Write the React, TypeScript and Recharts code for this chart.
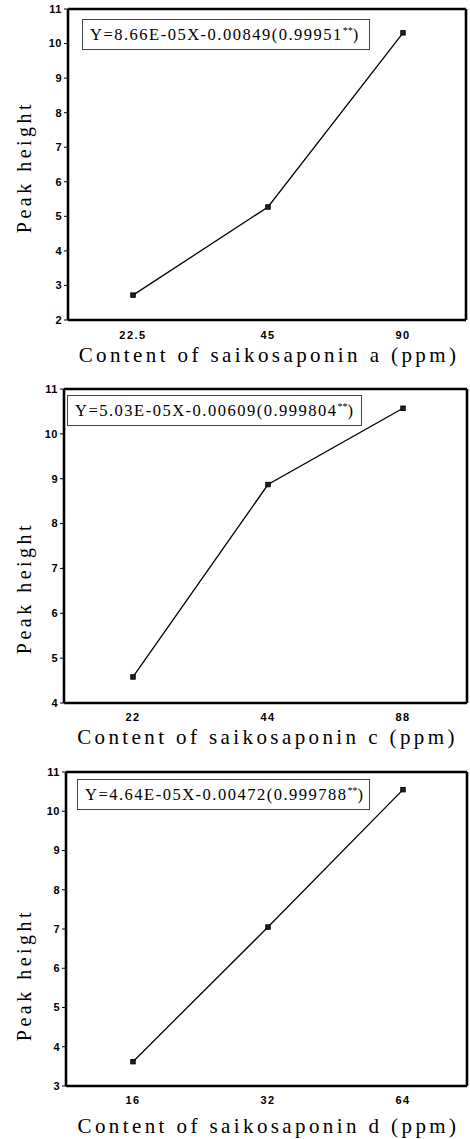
import React from 'react';
import { LineChart, Line, XAxis, YAxis, Label } from 'recharts';

const catsA = ['22.5', '45', '90'];
const valsA = [2.72, 5.27, 10.31];
const ticksA = [2, 3, 4, 5, 6, 7, 8, 9, 10, 11];
const eqA = 'Y=8.66E-05X-0.00849(0.99951';

const catsC = ['22', '44', '88'];
const valsC = [4.58, 8.87, 10.57];
const ticksC = [4, 5, 6, 7, 8, 9, 10, 11];
const eqC = 'Y=5.03E-05X-0.00609(0.999804';

const catsD = ['16', '32', '64'];
const valsD = [3.62, 7.05, 10.55];
const ticksD = [3, 4, 5, 6, 7, 8, 9, 10, 11];
const eqD = 'Y=4.64E-05X-0.00472(0.999788';

const xTitles = [
  'Content of saikosaponin a (ppm)',
  'Content of saikosaponin c (ppm)',
  'Content of saikosaponin d (ppm)',
];
const yTitle = 'Peak height';

const SERIF = '"Liberation Serif", "DejaVu Serif", serif';
const SANS = '"Liberation Sans", Arial, sans-serif';

const SquareDot = (props: any) => {
  const { cx, cy } = props;
  if (cx == null || cy == null) return null;
  return <rect x={cx - 2.2} y={cy - 2.2} width={4.4} height={4.4} fill="#222" stroke="#000" strokeWidth={1} />;
};

type PanelProps = {
  top: number;
  height: number;
  plotTop: number;
  plotBottom: number;
  plotLeft: number;
  plotRight: number;
  cats: string[];
  vals: number[];
  ticks: number[];
  eq: string;
  eqBox: { left: number; top: number; width: number; height: number };
  xTitle: string;
  xTickGap: number;
  xTitleY: number;
  yTitleY: number;
  padL: number;
  padR: number;
};

function Panel(p: PanelProps) {
  const data = p.cats.map((c, i) => ({ x: c, y: p.vals[i] }));
  const W = 470;
  const frame = { stroke: '#000', strokeWidth: 2.6 };
  return (
    <div style={{ position: 'absolute', left: 0, top: p.top, width: W, height: p.height }}>
      <LineChart
        width={W}
        height={p.height}
        data={data}
        margin={{ top: p.plotTop - p.top - 1, right: W - p.plotRight - 1, left: 0, bottom: 0 }}
      >
        <XAxis
          dataKey="x"
          type="category"
          height={p.top + p.height - p.plotBottom}
          axisLine={frame}
          tickLine={false}
          tickSize={0}
          tickMargin={p.xTickGap}
          padding={{ left: p.padL, right: p.padR }}
          tick={{ fill: '#000', fontSize: 11, fontWeight: 700, fontFamily: SANS, letterSpacing: 1.5 }}
        >
          <Label
            content={(lp: any) => {
              const vb = lp.viewBox || {};
              return (
                <text
                  x={vb.x + vb.width / 2 + 2}
                  y={p.xTitleY - p.top}
                  textAnchor="middle"
                  dominantBaseline="central"
                  fontFamily={SERIF}
                  fontSize={21}
                  letterSpacing={3.4}
                  fill="#000"
                >
                  {p.xTitle}
                </text>
              );
            }}
          />
        </XAxis>
        <XAxis
          xAxisId="top"
          dataKey="x"
          orientation="top"
          height={1}
          axisLine={frame}
          tick={false}
          tickLine={false}
          padding={{ left: p.padL, right: p.padR }}
        />
        <YAxis
          type="number"
          domain={[p.ticks[0], p.ticks[p.ticks.length - 1]]}
          ticks={p.ticks}
          interval={0}
          width={p.plotLeft}
          axisLine={frame}
          tickLine={{ stroke: '#000', strokeWidth: 1 }}
          tickSize={4}
          tickMargin={2}
          tick={{ fill: '#000', fontSize: 11, fontWeight: 700, fontFamily: SANS, letterSpacing: 0.5 }}
        >
          <Label
            content={() => {
              const cx = 24;
              const cy = p.yTitleY - p.top;
              return (
                <text
                  x={cx}
                  y={cy}
                  transform={`rotate(-90 ${cx} ${cy})`}
                  textAnchor="middle"
                  dominantBaseline="central"
                  fontFamily={SERIF}
                  fontSize={20}
                  letterSpacing={3.5}
                  fill="#000"
                >
                  {yTitle}
                </text>
              );
            }}
          />
        </YAxis>
        <YAxis
          yAxisId="right"
          orientation="right"
          type="number"
          domain={[p.ticks[0], p.ticks[p.ticks.length - 1]]}
          width={1}
          axisLine={frame}
          tick={false}
          tickLine={false}
        />
        <Line
          type="linear"
          dataKey="y"
          stroke="#000"
          strokeWidth={1.3}
          dot={<SquareDot />}
          activeDot={false}
          isAnimationActive={false}
        />
      </LineChart>
      <div
        style={{
          position: 'absolute',
          left: p.eqBox.left,
          top: p.eqBox.top - p.top,
          width: p.eqBox.width,
          height: p.eqBox.height,
          border: '1px solid #444',
          boxSizing: 'border-box',
          fontFamily: SERIF,
          fontSize: 16.5,
          letterSpacing: 1.5,
          lineHeight: `${p.eqBox.height - 2}px`,
          paddingLeft: 7,
          color: '#000',
          background: '#fff',
          whiteSpace: 'nowrap',
        }}
      >
        {p.eq}
        <sup style={{ fontSize: 10, lineHeight: 0, letterSpacing: 0 }}>**</sup>)
      </div>
    </div>
  );
}

export default function App() {
  return (
    <div style={{ position: 'absolute', left: 0, top: 0, width: 470, height: 1139, background: '#fff' }}>
      <Panel
        top={0}
        height={375}
        plotTop={9}
        plotBottom={320}
        plotLeft={68}
        plotRight={466}
        cats={catsA}
        vals={valsA}
        ticks={ticksA}
        eq={eqA}
        eqBox={{ left: 82, top: 19, width: 288, height: 31 }}
        xTitle={xTitles[0]}
        xTickGap={11}
        xTitleY={355}
        yTitleY={167}
        padL={65}
        padR={63}
      />
      <Panel
        top={375}
        height={375}
        plotTop={389}
        plotBottom={703}
        plotLeft={64}
        plotRight={467}
        cats={catsC}
        vals={valsC}
        ticks={ticksC}
        eq={eqC}
        eqBox={{ left: 67, top: 395, width: 295, height: 31 }}
        xTitle={xTitles[1]}
        xTickGap={10}
        xTitleY={737}
        yTitleY={588}
        padL={69}
        padR={64}
      />
      <Panel
        top={750}
        height={389}
        plotTop={772}
        plotBottom={1086}
        plotLeft={66}
        plotRight={467}
        cats={catsD}
        vals={valsD}
        ticks={ticksD}
        eq={eqD}
        eqBox={{ left: 77, top: 779, width: 293, height: 31 }}
        xTitle={xTitles[2]}
        xTickGap={10}
        xTitleY={1126}
        yTitleY={975}
        padL={67}
        padR={64}
      />
    </div>
  );
}
